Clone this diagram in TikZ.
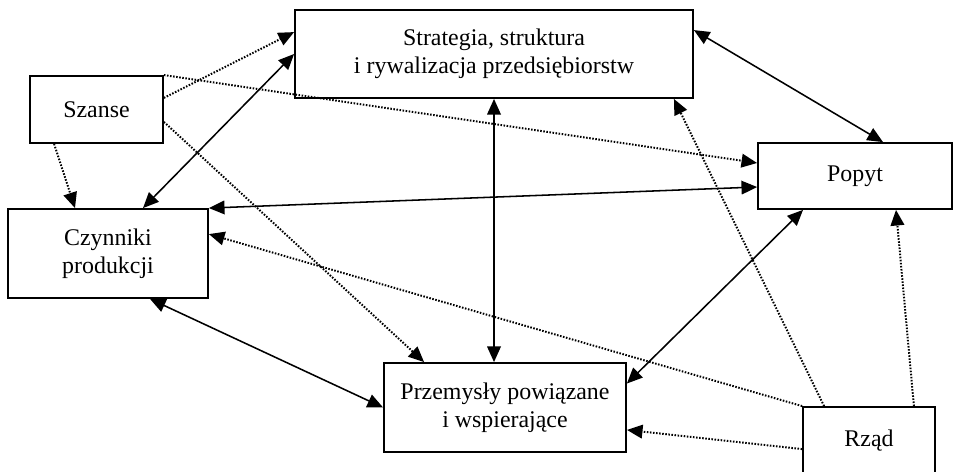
\documentclass[tikz,border=0pt]{standalone}
\usepackage{fontspec}
\setmainfont{Liberation Serif}
\usetikzlibrary{arrows.meta}
\tikzstyle{box}=[draw, rectangle, line width=1.3pt, align=center, inner sep=0pt, font=\fontsize{17}{20}\selectfont]
\tikzstyle{tie}=[{Triangle[length=3.9mm,width=3.4mm]}-{Triangle[length=3.9mm,width=3.4mm]}, line width=1.1pt]
\tikzstyle{dotlink}=[-{Triangle[length=3.9mm,width=3.4mm]}, line width=1.4pt, dash pattern=on 1.1pt off 1.1pt]

\begin{document}
\begin{tikzpicture}
  \useasboundingbox (0,0) rectangle (23.825,11.775);
  \draw (12.35,10.425) node[box,minimum width=9.95cm,minimum height=2.2cm] (strat) {Strategia, struktura\\i rywalizacja przedsiębiorstw};
  \draw (2.4125,9.0375) node[box,minimum width=3.325cm,minimum height=1.675cm] (szanse) {Szanse};
  \draw (2.7,5.4375) node[box,minimum width=5cm,minimum height=2.225cm] (czyn) {Czynniki\\produkcji};
  \draw (21.375,7.375) node[box,minimum width=4.85cm,minimum height=1.65cm] (popyt) {Popyt};
  \draw (12.625,1.5875) node[box,minimum width=6.05cm,minimum height=2.225cm] (przem) {Przemysły powiązane\\i wspierające};
  \draw (21.725,0.7625) node[box,minimum width=3.3cm,minimum height=1.675cm] (rzad) {Rząd};

  %% Solid, both ways
  \draw[tie] ([yshift=-0.525cm]strat.north east) -- ([xshift=0.7cm]popyt.north);
  \draw[tie] (strat.west) -- ([xshift=0.875cm]czyn.north);
  \draw[tie] (strat.south) -- (strat.south |- przem.north);
  \draw[tie] (czyn.north east) -- ([yshift=-0.275cm]popyt.west);
  \draw[tie] ([xshift=1.05cm]czyn.south) -- (przem.west);
  \draw[tie] ([xshift=-1.3cm]popyt.south) -- ([yshift=0.6cm]przem.east);

  %% Szanse
  \draw[dotlink] ([yshift=0.29cm]szanse.east) -- ([yshift=-0.575cm]strat.north west);
  \draw[dotlink] (szanse.north east) -- ([yshift=0.325cm]popyt.west);
  \draw[dotlink] ([yshift=-0.31cm]szanse.east) -- ([xshift=1.025cm]przem.north west);
  \draw[dotlink] ([xshift=-1.06cm]szanse.south) -- ([xshift=-0.825cm]czyn.north);

  %% Rzad
  \draw[dotlink] (rzad.north west) -- ([yshift=-0.65cm]czyn.north east);
  \draw[dotlink] ([xshift=0.55cm]rzad.north west) -- ([xshift=-0.5cm]strat.south east);
  \draw[dotlink] ([yshift=-1.075cm]rzad.north west) -- ([yshift=-0.56cm]przem.east);
  \draw[dotlink] ([xshift=-0.55cm]rzad.north east) -- ([xshift=1.025cm]popyt.south);
\end{tikzpicture}
\end{document}
